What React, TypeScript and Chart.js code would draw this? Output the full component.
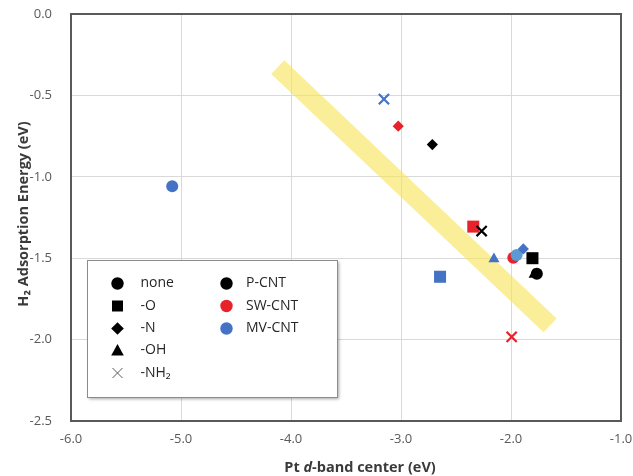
import React, { useEffect, useRef } from 'react';
import { Chart, registerables } from 'chart.js';

Chart.register(...registerables);

// ---------- data ----------
const substituents = ['none', '-O', '-N', '-OH', '-NH₂'];
const pointShapes = ['circle', 'rect', 'rectRot', 'triangle', 'crossRot'];
const pointSizes = [6, 8.5, 5.6, 6.4, 7.2];
const cntTypes = ['P-CNT', 'SW-CNT', 'MV-CNT'];
const cntColors = ['#000000', '#E8222A', '#4472C4'];
const overlapColor = '#5B9BD5';

// order of each array follows `substituents`
const pCntX = [-1.765, -1.805, -2.715, -1.79, -2.267];
const pCntY = [-1.595, -1.5, -0.802, -1.6, -1.333];
const swCntX = [-1.979, -2.343, -3.025, null, -1.994];
const swCntY = [-1.497, -1.306, -0.689, null, -1.983];
const mvCntX = [-5.08, -2.645, -1.888, -2.155, -3.155];
const mvCntY = [-1.058, -1.614, -1.443, -1.505, -0.523];
const mvOverlapX = [-1.949];
const mvOverlapY = [-1.48];

// guide band (trend)
const trendX = [-4.12, -1.645];
const trendY = [-0.326, -1.913];

const xTickValues = [-6, -5, -4, -3, -2, -1];
const yTickValues = [0, -0.5, -1, -1.5, -2, -2.5];

const xTitleParts = [
  { text: 'Pt ', italic: false },
  { text: 'd', italic: true },
  { text: '-band center (eV)', italic: false },
];
const yTitle = 'H₂ Adsorption Energy (eV)';

const FONT = '"Open Sans", "Noto Sans", "DejaVu Sans", sans-serif';

function zip(xs: (number | null)[], ys: (number | null)[]) {
  return xs.map((x, i) => ({ x: x as number, y: ys[i] as number }));
}

function drawLegendShape(ctx: CanvasRenderingContext2D, shape: string, x: number, y: number, color: string) {
  ctx.save();
  ctx.fillStyle = color;
  ctx.strokeStyle = color;
  ctx.beginPath();
  if (shape === 'circle') {
    ctx.arc(x, y, 6.2, 0, Math.PI * 2);
    ctx.fill();
  } else if (shape === 'rect') {
    ctx.rect(x - 5.5, y - 5.5, 11, 11);
    ctx.fill();
  } else if (shape === 'rectRot') {
    const r = 6.3;
    ctx.moveTo(x, y - r);
    ctx.lineTo(x + r, y);
    ctx.lineTo(x, y + r);
    ctx.lineTo(x - r, y);
    ctx.closePath();
    ctx.fill();
  } else if (shape === 'triangle') {
    ctx.moveTo(x, y - 6.5);
    ctx.lineTo(x + 6.3, y + 5);
    ctx.lineTo(x - 6.3, y + 5);
    ctx.closePath();
    ctx.fill();
  } else if (shape === 'crossRot') {
    ctx.strokeStyle = '#595959';
    ctx.lineWidth = 1;
    const h = 5;
    ctx.moveTo(x - h, y - h);
    ctx.lineTo(x + h, y + h);
    ctx.moveTo(x + h, y - h);
    ctx.lineTo(x - h, y + h);
    ctx.stroke();
  }
  ctx.restore();
}

const decorPlugin = {
  id: 'decor',
  beforeDatasetsDraw(chart: any) {
    const { ctx, chartArea: a } = chart;
    ctx.save();
    ctx.strokeStyle = '#595959';
    ctx.lineWidth = 2;
    ctx.strokeRect(a.left, a.top, a.right - a.left, a.bottom - a.top);
    ctx.restore();
  },
  afterDraw(chart: any) {
    const { ctx } = chart;
    ctx.save();
    // y title
    ctx.fillStyle = '#3a3a3a';
    ctx.font = `bold 14.5px ${FONT}`;
    ctx.textAlign = 'center';
    ctx.textBaseline = 'middle';
    ctx.translate(24, 214);
    ctx.rotate(-Math.PI / 2);
    ctx.fillText(yTitle, 0, 0);
    ctx.restore();

    // x title with italic d
    ctx.save();
    ctx.fillStyle = '#3a3a3a';
    ctx.textBaseline = 'middle';
    ctx.textAlign = 'left';
    const fonts = xTitleParts.map((p) => `${p.italic ? 'italic ' : ''}bold 14.5px ${FONT}`);
    let total = 0;
    const widths = xTitleParts.map((p, i) => {
      ctx.font = fonts[i];
      const w = ctx.measureText(p.text).width;
      total += w;
      return w;
    });
    let cx = 360 - total / 2;
    xTitleParts.forEach((p, i) => {
      ctx.font = fonts[i];
      ctx.fillText(p.text, cx, 468);
      cx += widths[i];
    });
    ctx.restore();

    // legend box
    const bx = 87, by = 260, bw = 250, bh = 137;
    ctx.save();
    ctx.shadowColor = 'rgba(0,0,0,0.35)';
    ctx.shadowOffsetX = 2;
    ctx.shadowOffsetY = 2;
    ctx.shadowBlur = 3;
    ctx.fillStyle = '#ffffff';
    ctx.fillRect(bx, by, bw, bh);
    ctx.restore();
    ctx.save();
    ctx.strokeStyle = '#8c8c8c';
    ctx.lineWidth = 1;
    ctx.strokeRect(bx + 0.5, by + 0.5, bw, bh);
    ctx.restore();

    const rowY = [283.5, 306, 328.5, 350.5, 373];
    ctx.save();
    ctx.font = `14px ${FONT}`;
    ctx.fillStyle = '#262626';
    ctx.textBaseline = 'middle';
    ctx.textAlign = 'left';
    substituents.forEach((s, i) => {
      drawLegendShape(ctx, pointShapes[i], 117.5, rowY[i], '#000000');
      ctx.fillStyle = '#262626';
      ctx.fillText(s, 140.5, rowY[i]);
    });
    cntTypes.forEach((c, i) => {
      drawLegendShape(ctx, 'circle', 226.5, rowY[i], cntColors[i]);
      ctx.fillStyle = '#262626';
      ctx.fillText(c, 246, rowY[i]);
    });
    ctx.restore();
  },
};

function pointDataset(label: string, xs: (number | null)[], ys: (number | null)[], color: string, styles: string[], sizes: number[]) {
  return {
    type: 'scatter' as const,
    label,
    data: zip(xs, ys),
    showLine: false,
    pointStyle: styles,
    pointRadius: sizes,
    pointBackgroundColor: color,
    pointBorderColor: color,
    pointBorderWidth: styles.map((s) => (s === 'crossRot' ? 2.2 : 0)),
  };
}

function zeroPad(s: any) {
  s.paddingTop = 0;
  s.paddingBottom = 0;
  s.paddingLeft = 0;
  s.paddingRight = 0;
}

export default function App() {
  const canvasRef = useRef<HTMLCanvasElement | null>(null);

  useEffect(() => {
    if (!canvasRef.current) return;
    const chart = new Chart(canvasRef.current, {
      type: 'scatter',
      data: {
        datasets: [
          pointDataset(cntTypes[0], pCntX, pCntY, cntColors[0], pointShapes, pointSizes),
          pointDataset(cntTypes[2], mvCntX, mvCntY, cntColors[2], pointShapes, pointSizes),
          pointDataset('MV-CNT (overlap)', mvOverlapX, mvOverlapY, overlapColor, ['circle'], [6]),
          pointDataset(cntTypes[1], swCntX, swCntY, cntColors[1], pointShapes, pointSizes),
          {
            type: 'line' as const,
            label: 'trend',
            data: zip(trendX, trendY),
            showLine: true,
            borderColor: 'rgba(247, 228, 88, 0.62)',
            borderWidth: 19,
            borderCapStyle: 'butt',
            pointRadius: 0,
            fill: false,
          },
        ] as any,
      },
      options: {
        responsive: false,
        animation: false,
        events: [],
        layout: { padding: { left: 0, top: 14, right: 12, bottom: 0 } },
        plugins: {
          legend: { display: false },
          tooltip: { enabled: false },
        },
        scales: {
          x: {
            type: 'linear',
            min: -6,
            max: -1,
            afterBuildTicks: (s: any) => {
              s.ticks = xTickValues.map((v) => ({ value: v }));
            },
            afterFit: (s: any) => {
              s.height = 55;
              zeroPad(s);
            },
            grid: { color: '#D9D9D9', lineWidth: 1, drawTicks: false },
            border: { display: false },
            ticks: {
              autoSkip: false,
              maxRotation: 0,
              padding: 10,
              color: '#595959',
              font: { family: FONT, size: 13 },
              callback: (v: any) => Number(v).toFixed(1),
            },
          },
          y: {
            type: 'linear',
            min: -2.5,
            max: 0,
            afterBuildTicks: (s: any) => {
              s.ticks = yTickValues.map((v) => ({ value: v }));
            },
            afterFit: (s: any) => {
              s.width = 71;
              zeroPad(s);
            },
            grid: { color: '#D9D9D9', lineWidth: 1, drawTicks: false },
            border: { display: false },
            ticks: {
              autoSkip: false,
              padding: 19,
              color: '#595959',
              font: { family: FONT, size: 13 },
              callback: (v: any) => Number(v).toFixed(1),
            },
          },
        },
      } as any,
      plugins: [decorPlugin],
    });
    return () => chart.destroy();
  }, []);

  return (
    <div style={{ position: 'absolute', left: 0, top: 0, width: 633, height: 476, background: '#ffffff' }}>
      <canvas ref={canvasRef} width={633} height={476} style={{ display: 'block' }} />
    </div>
  );
}
